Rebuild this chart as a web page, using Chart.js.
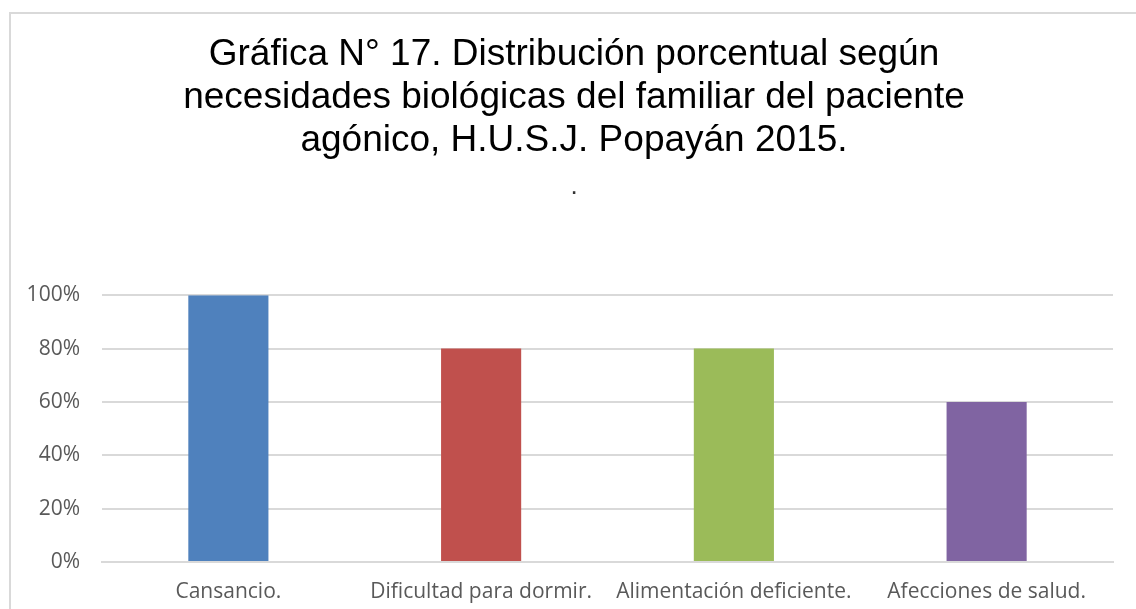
<!DOCTYPE html>
<html>
<head>
<meta charset="utf-8">
<script src="https://cdn.jsdelivr.net/npm/chart.js"></script>
<style>
  html, body { margin: 0; padding: 0; background: #fff; overflow: hidden; }
  #wrap { position: absolute; left: 0; top: 0; width: 1148px; height: 609px; }
  #frame { position: absolute; left: 9px; top: 12px; width: 1140px; height: 620px; border: 2px solid #d9d9d9; box-sizing: border-box; }
</style>
</head>
<body>
<div id="frame"></div>
<div id="wrap"><canvas id="myChart"></canvas></div>
<script>
const categories = ['Cansancio.', 'Dificultad para dormir.', 'Alimentación deficiente.', 'Afecciones de salud.'];
const values = [100, 80, 80, 60];
const barColors = ['#4F81BD', '#C0504D', '#9BBB59', '#8064A2'];
const yTicks = [0, 20, 40, 60, 80, 100];
const titleLines = ['Gráfica N° 17. Distribución porcentual según', 'necesidades biológicas del familiar del paciente', 'agónico, H.U.S.J. Popayán 2015.'];

const ctx = document.getElementById('myChart');

const chart = new Chart(ctx, {
  type: 'bar',
  data: {
    labels: categories,
    datasets: [{
      data: values,
      backgroundColor: barColors,
      borderWidth: 0,
      categoryPercentage: 1,
      barPercentage: 0.317
    }]
  },
  options: {
    responsive: true,
    maintainAspectRatio: false,
    animation: false,
    layout: { padding: 0 },
    plugins: {
      legend: { display: false },
      tooltip: { enabled: false },
      title: {
        display: true,
        text: titleLines,
        color: '#000',
        font: { family: 'Liberation Sans, Arial, sans-serif', size: 37, weight: 'normal', lineHeight: 1.162 },
        padding: { top: 33, bottom: 0 }
      },
      subtitle: {
        display: true,
        text: '.',
        color: '#333',
        font: { family: 'Liberation Sans, Arial, sans-serif', size: 26, weight: 'normal', lineHeight: 1.2 },
        padding: { top: 9, bottom: 93 }
      }
    },
    scales: {
      x: {
        grid: { display: false },
        border: { display: true, color: '#d9d9d9', width: 2 },
        ticks: { color: '#595959', font: { family: 'Open Sans, sans-serif', size: 21 }, padding: 9, maxRotation: 0, autoSkip: false },
        afterFit: scale => { scale.height = 47; }
      },
      y: {
        min: 0,
        max: 100,
        afterBuildTicks: scale => { scale.ticks = yTicks.map(v => ({ value: v })); },
        grid: { color: '#d9d9d9', lineWidth: 2, drawTicks: false },
        border: { display: false },
        ticks: {
          color: '#595959',
          font: { family: 'Open Sans, sans-serif', size: 21 },
          padding: 22,
          callback: v => v + '%'
        },
        afterFit: scale => { scale.width = 102; }
      },
      // empty right axis, only keeps the plot off the right edge
      yRight: {
        type: 'linear',
        position: 'right',
        min: 0,
        max: 100,
        grid: { display: false },
        border: { display: false },
        ticks: { display: false },
        afterFit: scale => { scale.width = 35; }
      }
    }
  }
});
</script>
</body>
</html>
